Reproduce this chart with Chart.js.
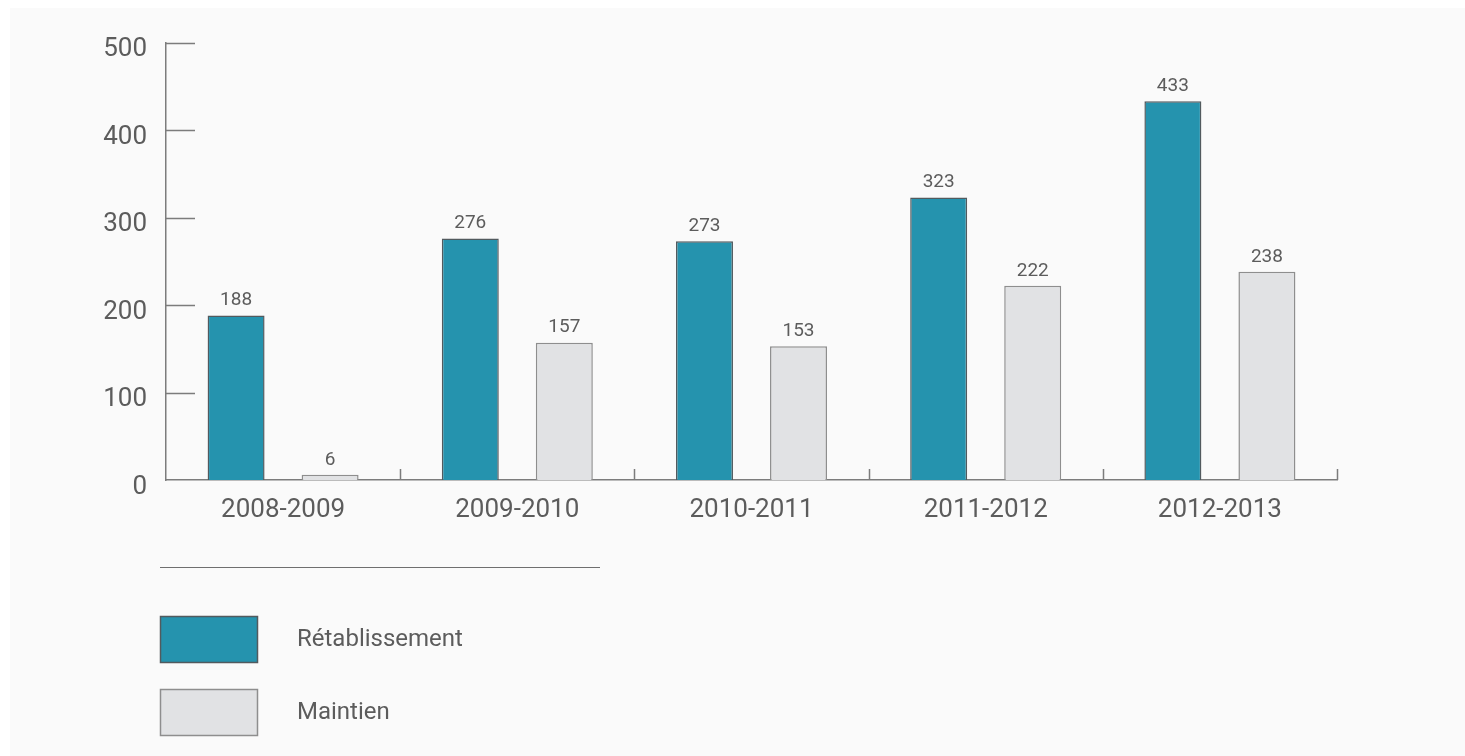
<!DOCTYPE html>
<html lang="fr">
<head>
<meta charset="utf-8">
<title>Rétablissement et maintien</title>
<script src="https://cdn.jsdelivr.net/npm/chart.js@4.4.1/dist/chart.umd.min.js"></script>
<style>
  html, body { margin: 0; padding: 0; background: #ffffff; }
  #wrap { position: absolute; left: 10px; top: 8px; width: 1455px; height: 748px; background: #fafafa; }
  canvas { display: block; }
</style>
</head>
<body>
<div id="wrap"><canvas id="chart" width="1455" height="748"></canvas></div>
<script>
const years = ['2008-2009', '2009-2010', '2010-2011', '2011-2012', '2012-2013'];
const retablissement = [188, 276, 273, 323, 433];
const maintien = [6, 157, 153, 222, 238];
const yTicks = [0, 100, 200, 300, 400, 500];

const textColor = '#5c5c5c';
const axisColor = '#7c7c7c';
const fontFamily = 'Roboto, "DejaVu Sans", sans-serif';

// short inward tick marks on both axes
const innerTicks = {
  id: 'innerTicks',
  afterDatasetsDraw(chart) {
    const ctx = chart.ctx;
    const x = chart.scales.x;
    const y = chart.scales.y;
    ctx.save();
    ctx.strokeStyle = axisColor;
    ctx.lineWidth = 1.5;
    ctx.beginPath();
    y.ticks.forEach((t, i) => {
      if (t.value === 0) return;
      const py = Math.round(y.getPixelForTick(i)) + 0.5;
      ctx.moveTo(y.right, py);
      ctx.lineTo(y.right + 29, py);
    });
    for (let i = 0; i < years.length; i++) {
      const px = i < years.length - 1
        ? (x.getPixelForTick(i) + x.getPixelForTick(i + 1)) / 2
        : x.right;
      ctx.moveTo(Math.round(px) + 0.5, x.top);
      ctx.lineTo(Math.round(px) + 0.5, x.top - 11);
    }
    ctx.stroke();
    ctx.restore();
  }
};

// value printed above every bar
const valueLabels = {
  id: 'valueLabels',
  afterDatasetsDraw(chart) {
    const ctx = chart.ctx;
    ctx.save();
    ctx.font = '19px ' + fontFamily;
    ctx.fillStyle = textColor;
    ctx.textAlign = 'center';
    ctx.textBaseline = 'middle';
    chart.data.datasets.forEach((ds, di) => {
      chart.getDatasetMeta(di).data.forEach((bar, i) => {
        ctx.fillText(ds.data[i], bar.x, bar.y - 15);
      });
    });
    ctx.restore();
  }
};

// legend under the plot: rule, then one large swatch per series
const blockLegend = {
  id: 'blockLegend',
  afterDraw(chart) {
    const ctx = chart.ctx;
    ctx.save();
    ctx.strokeStyle = '#6f6f6f';
    ctx.lineWidth = 1.2;
    ctx.beginPath();
    ctx.moveTo(150, 559.5);
    ctx.lineTo(590, 559.5);
    ctx.stroke();
    ctx.font = '24px ' + fontFamily;
    ctx.textBaseline = 'middle';
    chart.data.datasets.forEach((ds, i) => {
      const top = 608 + i * 73;
      ctx.fillStyle = ds.backgroundColor;
      ctx.fillRect(150, top, 98, 47);
      ctx.strokeStyle = ds.borderColor;
      ctx.lineWidth = 1.5;
      ctx.strokeRect(150.5, top + 0.5, 97, 46);
      ctx.fillStyle = textColor;
      ctx.fillText(ds.label, 287, top + 24);
    });
    ctx.restore();
  }
};

new Chart(document.getElementById('chart'), {
  type: 'bar',
  data: {
    labels: years,
    datasets: [
      {
        label: 'Rétablissement',
        data: retablissement,
        backgroundColor: '#2593ae',
        borderColor: '#525a5e',
        borderWidth: 1.5
      },
      {
        label: 'Maintien',
        data: maintien,
        backgroundColor: '#e1e2e4',
        borderColor: '#8e8e8e',
        borderWidth: 1.5
      }
    ]
  },
  options: {
    responsive: false,
    animation: false,
    devicePixelRatio: 1,
    categoryPercentage: 0.803,
    barPercentage: 0.606,
    layout: { padding: { left: 0, top: 34, right: 128, bottom: 226 } },
    plugins: {
      legend: { display: false },
      tooltip: { enabled: false }
    },
    scales: {
      x: {
        grid: { display: false, drawTicks: false },
        border: { display: true, color: axisColor, width: 1.5 },
        ticks: {
          color: textColor,
          padding: 15,
          font: { family: fontFamily, size: 26 }
        },
        afterFit(scale) { scale.height = 50; }
      },
      y: {
        min: 0,
        max: 500,
        afterBuildTicks(scale) { scale.ticks = yTicks.map(v => ({ value: v })); },
        grid: { display: false, drawTicks: false },
        border: { display: true, color: axisColor, width: 1.5 },
        ticks: {
          color: textColor,
          padding: 19,
          labelOffset: 7,
          font: { family: fontFamily, size: 26 }
        },
        afterFit(scale) { scale.width = 156; }
      }
    }
  },
  plugins: [innerTicks, valueLabels, blockLegend]
});
</script>
</body>
</html>
